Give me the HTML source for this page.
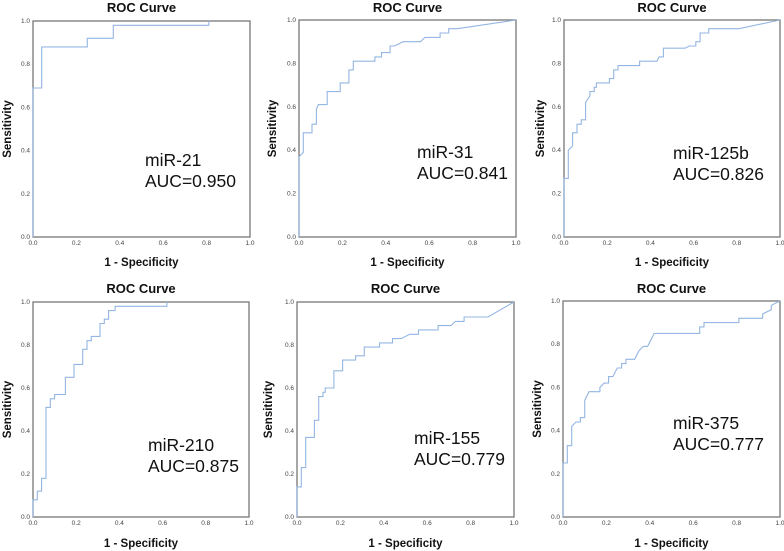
<!DOCTYPE html>
<html><head><meta charset="utf-8">
<style>
html,body{margin:0;padding:0;background:#fff;}
svg{display:block;}
</style></head>
<body>
<svg id="chart" width="784" height="551" viewBox="0 0 784 551" xmlns="http://www.w3.org/2000/svg" font-family="'Liberation Sans', sans-serif"></svg>
<script>
// Tick labels shared by all panels
const tickLabels = ["0.0","0.2","0.4","0.6","0.8","1.0"];
const tickValues = [0,0.2,0.4,0.6,0.8,1.0];
// Marker names
const markers = ["miR-21","miR-31","miR-125b","miR-210","miR-155","miR-375"];
const aucValues = ["0.950","0.841","0.826","0.875","0.779","0.777"];
// ROC series: 1-specificity (fpr) and sensitivity (tpr)
const fpr21 = [0,0,0.04,0.04,0.25,0.25,0.37,0.37,0.81,0.81];
const tpr21 = [0,0.69,0.69,0.88,0.88,0.92,0.92,0.98,0.98,1.0];
const fpr31 = [0,0,0.02,0.02,0.06,0.06,0.08,0.08,0.09,0.13,0.13,0.19,0.19,0.23,0.23,0.25,0.25,0.35,0.35,0.38,0.38,0.42,0.42,0.44,0.48,0.56,0.58,0.65,0.65,0.69,0.69,0.73,1];
const tpr31 = [0,0.37,0.39,0.48,0.48,0.52,0.52,0.59,0.61,0.61,0.67,0.67,0.71,0.71,0.77,0.77,0.81,0.81,0.83,0.83,0.85,0.85,0.88,0.88,0.90,0.90,0.92,0.92,0.94,0.94,0.96,0.96,1];
const fpr125b = [0,0,0.02,0.02,0.04,0.04,0.06,0.06,0.08,0.08,0.10,0.10,0.12,0.12,0.14,0.14,0.15,0.15,0.21,0.21,0.23,0.23,0.25,0.25,0.35,0.35,0.43,0.44,0.46,0.46,0.56,0.58,0.61,0.61,0.63,0.63,0.67,0.67,0.81,1];
const tpr125b = [0,0.27,0.27,0.40,0.42,0.48,0.48,0.52,0.52,0.54,0.54,0.62,0.65,0.67,0.67,0.69,0.69,0.71,0.71,0.73,0.73,0.77,0.77,0.79,0.79,0.81,0.81,0.83,0.83,0.87,0.87,0.88,0.88,0.90,0.90,0.94,0.94,0.96,0.96,1];
const fpr210 = [0,0,0.02,0.02,0.04,0.04,0.06,0.06,0.08,0.08,0.10,0.10,0.15,0.15,0.19,0.19,0.23,0.23,0.25,0.25,0.27,0.27,0.31,0.31,0.33,0.33,0.35,0.35,0.38,0.38,0.62,0.62];
const tpr210 = [0,0.08,0.08,0.12,0.12,0.18,0.18,0.51,0.51,0.55,0.55,0.57,0.57,0.65,0.65,0.71,0.71,0.78,0.78,0.82,0.82,0.84,0.84,0.90,0.90,0.92,0.92,0.96,0.96,0.98,0.98,1.0];
const fpr155 = [0,0,0.02,0.02,0.04,0.04,0.08,0.08,0.10,0.10,0.12,0.12,0.13,0.13,0.17,0.17,0.21,0.21,0.27,0.27,0.31,0.31,0.38,0.38,0.44,0.44,0.48,0.52,0.56,0.56,0.65,0.65,0.71,0.73,0.77,0.77,0.88,1];
const tpr155 = [0,0.14,0.14,0.23,0.23,0.37,0.37,0.45,0.45,0.56,0.56,0.58,0.58,0.60,0.60,0.68,0.68,0.73,0.73,0.75,0.75,0.79,0.79,0.81,0.81,0.83,0.83,0.85,0.85,0.87,0.87,0.89,0.89,0.91,0.91,0.93,0.93,1];
const fpr375 = [0,0,0.02,0.02,0.04,0.04,0.06,0.08,0.08,0.10,0.10,0.12,0.17,0.17,0.19,0.21,0.21,0.23,0.25,0.27,0.27,0.29,0.29,0.33,0.35,0.37,0.39,0.41,0.42,0.63,0.63,0.65,0.65,0.81,0.81,0.92,0.92,0.96,0.96,1];
const tpr375 = [0,0.25,0.25,0.33,0.33,0.42,0.44,0.44,0.46,0.46,0.54,0.58,0.58,0.60,0.62,0.62,0.65,0.65,0.69,0.69,0.71,0.71,0.73,0.73,0.77,0.79,0.79,0.83,0.85,0.85,0.88,0.88,0.90,0.90,0.92,0.92,0.94,0.96,0.98,1];

const seriesX = [fpr21,fpr31,fpr125b,fpr210,fpr155,fpr375];
const seriesY = [tpr21,tpr31,tpr125b,tpr210,tpr155,tpr375];

// Layout (not data)
const boxes = [
  {x0:33,x1:250,y0:21,y1:237,tx:145,ty:160,sx:7,title:7,xl:262},
  {x0:299,x1:516,y0:20,y1:237,tx:417,ty:152,sx:272,title:7,xl:262},
  {x0:564,x1:780,y0:20,y1:237,tx:673,ty:153,sx:540,title:7,xl:262},
  {x0:33,x1:249,y0:302,y1:517,tx:148,ty:445,sx:7,title:288,xl:543},
  {x0:297,x1:514,y0:302,y1:517,tx:414,ty:438,sx:268,title:288,xl:543},
  {x0:563,x1:780,y0:301,y1:517,tx:673,ty:423,sx:537,title:288,xl:543}
];

const NS = "http://www.w3.org/2000/svg";
const svg = document.getElementById("chart");
function mk(tag, attrs, parent){
  const e = document.createElementNS(NS, tag);
  for (const k in attrs) e.setAttribute(k, attrs[k]);
  (parent||svg).appendChild(e);
  return e;
}

boxes.forEach((b, i) => {
  const g = mk("g", {});
  
  
  const xs = v => b.x0 + v * (b.x1 - b.x0);
  const ys = v => b.y1 - v * (b.y1 - b.y0);
  const cx = (b.x0 + b.x1) / 2, cy = (b.y0 + b.y1) / 2;

  const t = mk("text", {x:cx, y:b.title+5, "text-anchor":"middle", "font-size":"13", "font-weight":"bold", fill:"#111"}, g);
  t.textContent = "ROC Curve";
  
  

  const xl = mk("text", {x:cx, y:b.xl+4, "text-anchor":"middle", "font-size":"11.5", "font-weight":"bold", fill:"#111"}, g);
  xl.textContent = "1 - Specificity";
  
  

  const yl = mk("text", {x:0, y:0, transform:`translate(${b.sx+4},${cy}) rotate(-90)`, "text-anchor":"middle", "font-size":"11.5", "font-weight":"bold", fill:"#111"}, g);
  yl.textContent = "Sensitivity";
  
  

  tickValues.forEach((v, k) => {
    const tx = mk("text", {x:xs(v), y:b.y1+8, "text-anchor":"middle", "font-size":"6.5", fill:"#444"}, g);
    tx.textContent = tickLabels[k];
    
    
    const ty = mk("text", {x:b.x0-3, y:ys(v)+2, "text-anchor":"end", "font-size":"6.5", fill:"#444"}, g);
    ty.textContent = tickLabels[k];
    
    
  });

  const rect = mk("rect", {x:b.x0, y:b.y0, width:b.x1-b.x0, height:b.y1-b.y0, fill:"none", stroke:"#777", "stroke-width":"1.3"}, g);
  
  

  const X = seriesX[i], Y = seriesY[i];
  const pts = X.map((v, k) => xs(v).toFixed(1) + "," + ys(Y[k]).toFixed(1)).join(" ");
  const pl = mk("polyline", {points:pts, fill:"none", stroke:"#94b6e2", "stroke-width":"1.1"}, g);
  
  

  const l1 = mk("text", {x:b.tx, y:b.ty+6, "font-size":"17.5", fill:"#111"}, g);
  l1.textContent = markers[i];
  
  
  const l2 = mk("text", {x:b.tx, y:b.ty+27, "font-size":"17.5", fill:"#111"}, g);
  l2.textContent = "AUC=" + aucValues[i];
  
  
});
</script>
</body></html>
